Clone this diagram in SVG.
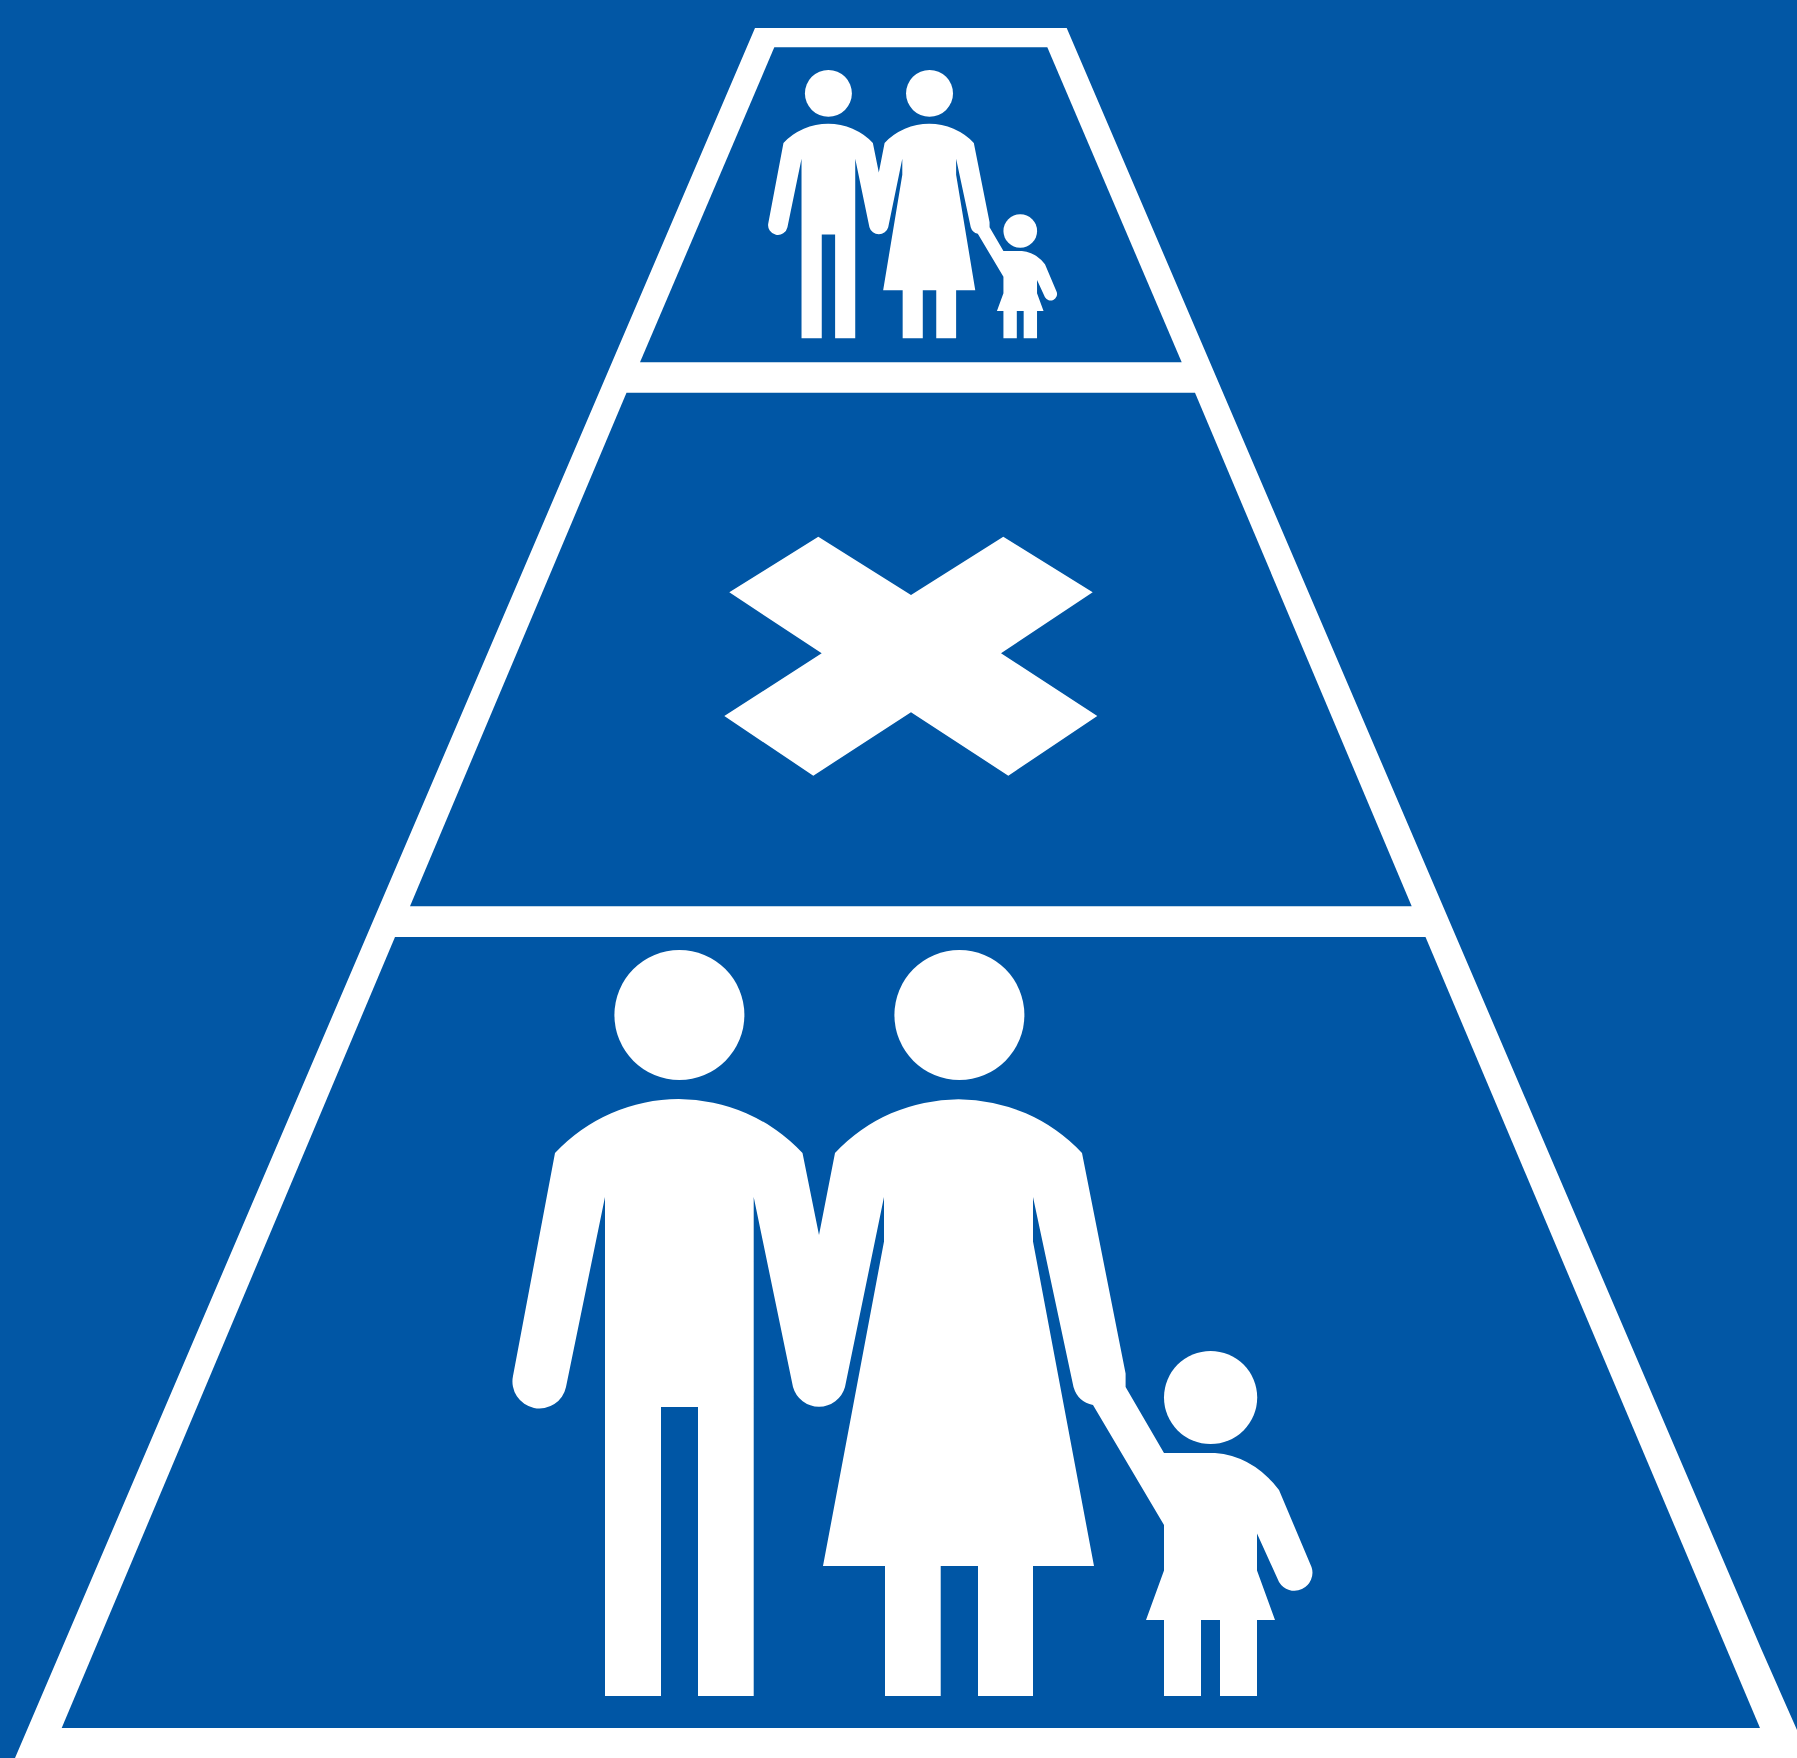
<svg xmlns="http://www.w3.org/2000/svg" width="1797" height="1758" viewBox="0 0 1797 1758">
<style>.bg{fill:#0257a5}.w{fill:#fff}</style>
<defs>
<filter id="soft" x="-2%" y="-2%" width="104%" height="104%"><feGaussianBlur stdDeviation="0.7"/></filter>
<filter id="softer" x="-5%" y="-5%" width="110%" height="110%"><feGaussianBlur stdDeviation="1.1"/></filter>
<g id="heads">
<circle class="w" cx="679.4" cy="1015" r="65"/>
<circle class="w" cx="959.4" cy="1015" r="65"/>
<circle class="w" cx="1210.6" cy="1397.5" r="46.6"/>
</g>
</defs>
<rect id="background" class="bg" width="1797" height="1758"/>
<g id="pyramid" filter="url(#soft)">
<polygon class="w" points="755,28 1066.7,28 1761.7,1650 1797,1730 1797,1758 15,1758"/>
<polygon id="panel-top" class="bg" points="774.3,47.3 1047.3,47.3 1181.7,362.3 640,362.3"/>
<polygon id="panel-middle" class="bg" points="626.5,392.8 1195,392.8 1411.7,906.2 410,906.2"/>
<polygon id="panel-bottom" class="bg" points="395,937 1425.5,937 1760,1728 61.7,1728"/>
</g>
<g id="family-small" filter="url(#softer)" transform="translate(583 -271.7) scale(.3612 .3597)">
<use href="#heads"/>
<path class="w" d="M555 1153A169 169 0 0 1 802.5 1153L819 1235L835 1153A169 169 0 0 1 1082 1153L1125.6 1373.5L1125.6 1387L1164 1453L1215 1453Q1253 1456 1279 1490L1311.5 1567A18 18 0 0 1 1279 1582L1257 1533.5L1257 1570.5L1275 1620L1257 1620L1257 1696L1220 1696L1220 1620L1201 1620L1201 1696L1164 1696L1164 1620L1146 1620L1164 1570.5L1164 1525L1093 1405Q1078 1402 1073.5 1387L1033 1197L1033 1241.5L1086 1562L1033 1562L1033 1696L978 1696L978 1562L940.7 1562L940.7 1696L885 1696L885 1562L831 1562L884 1241.5L884 1197L845 1387A27 27 0 0 1 793 1387L753.7 1197L753.7 1696L698 1696L698 1407L661 1407L661 1696L605 1696L605 1197L566 1387A27 27 0 0 1 513 1376Z"/>
</g>
<g id="cross" filter="url(#soft)"><polygon class="w" points="818.3,536.7 911,595 1003.3,536.7 1092.7,592.3 1001,653.3 1097.3,716 1008.3,775.7 911,712.3 813.3,775.7 724.3,716 821.7,653.3 729.3,592.3"/></g>
<g id="family-large" filter="url(#soft)">
<use href="#heads"/>
<path class="w" d="M555 1153A169 169 0 0 1 802.5 1153L819 1235L835 1153A169 169 0 0 1 1082 1153L1125.6 1373.5L1125.6 1387L1164 1453L1215 1453Q1253 1456 1279 1490L1311.5 1567A18 18 0 0 1 1279 1582L1257 1533.5L1257 1570.5L1275 1620L1257 1620L1257 1696L1220 1696L1220 1620L1201 1620L1201 1696L1164 1696L1164 1620L1146 1620L1164 1570.5L1164 1525L1093 1405Q1078 1402 1073.5 1387L1033 1197L1033 1241.5L1094 1566L1033 1566L1033 1696L978 1696L978 1566L940.7 1566L940.7 1696L885 1696L885 1566L823 1566L884 1241.5L884 1197L845 1387A27 27 0 0 1 793 1387L753.7 1197L753.7 1696L698 1696L698 1407L661 1407L661 1696L605 1696L605 1197L566 1387A27 27 0 0 1 513 1376Z"/>
</g>
</svg>
